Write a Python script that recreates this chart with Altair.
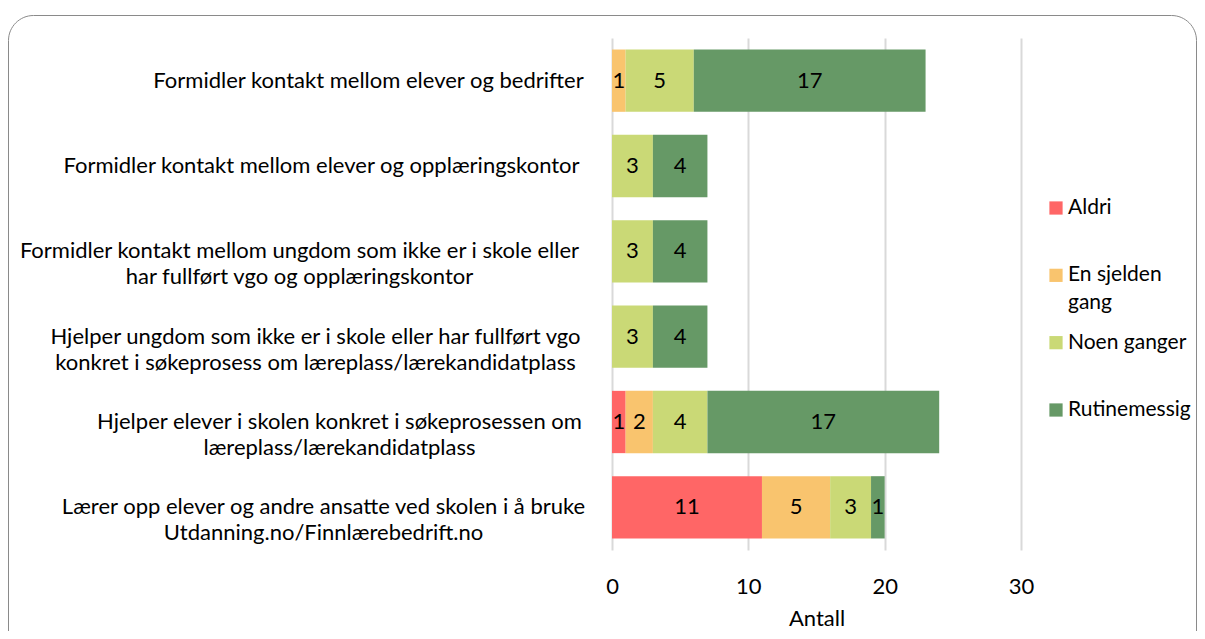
import json
import altair as alt
import pandas as pd

# ---- data ----
categories = [
    "Formidler kontakt mellom elever og bedrifter",
    "Formidler kontakt mellom elever og opplæringskontor",
    "Formidler kontakt mellom ungdom som ikke er i skole eller\nhar fullført vgo og opplæringskontor",
    "Hjelper ungdom som ikke er i skole eller har fullført vgo\nkonkret i søkeprosess om læreplass/lærekandidatplass",
    "Hjelper elever i skolen konkret i søkeprosessen om\nlæreplass/lærekandidatplass",
    "Lærer opp elever og andre ansatte ved skolen i å bruke\nUtdanning.no/Finnlærebedrift.no",
]
series = ["Aldri", "En sjelden gang", "Noen ganger", "Rutinemessig"]
legend_labels = ["Aldri", "En sjelden\ngang", "Noen ganger", "Rutinemessig"]
aldri = [0, 0, 0, 0, 1, 11]
sjelden = [1, 0, 0, 0, 2, 5]
noen = [5, 3, 3, 3, 4, 3]
rutine = [17, 4, 4, 4, 17, 1]
x_ticks = [0, 10, 20, 30]
x_title = "Antall"

# ---- styles ----
colors = ["#FF6666", "#F9C46E", "#CAD976", "#669966"]
FONT = "Lato"
FS = 22
# centre of each category label block (distance from the axis)
label_pad = [244, 291, 313, 297, 273, 289]

rows = []
for vals, s_i in zip([aldri, sjelden, noen, rutine], range(4)):
    for c, v in zip(categories, vals):
        rows.append({"cat": c, "series": series[s_i], "value": v, "order": s_i})
df = pd.DataFrame(rows)

color = alt.Color("series:N", scale=alt.Scale(domain=series, range=colors), legend=None)

pad_cond = {
    "condition": [
        {"test": "datum.value === " + json.dumps(c, ensure_ascii=False), "value": p}
        for c, p in zip(categories, label_pad)
    ],
    "value": 290,
}

y_enc = alt.Y(
    "cat:N",
    sort=categories,
    title=None,
    scale=alt.Scale(paddingInner=0.27, paddingOuter=0.135),
    axis=alt.Axis(
        domain=False, ticks=False, grid=False,
        labelExpr="split(datum.label, '\\n')",
        labelAlign="center", labelBaseline="middle",
        labelPadding=pad_cond,
        labelFont=FONT, labelFontSize=FS, labelLineHeight=26,
        labelColor="black", labelLimit=1000,
    ),
)

base = alt.Chart(df).transform_filter("datum.value > 0")

bars = base.mark_bar().encode(
    y=y_enc,
    x=alt.X(
        "value:Q", stack="zero",
        scale=alt.Scale(domain=[0, 30], nice=False),
        axis=alt.Axis(
            values=x_ticks, grid=True, gridColor="#D9D9D9", gridWidth=2,
            domain=False, ticks=False, labelFlush=False,
            labelFont=FONT, labelFontSize=FS, labelColor="black", labelPadding=26,
            title=x_title, titleFont=FONT, titleFontSize=FS, titleFontWeight="normal",
            titleColor="black", titleBaseline="alphabetic", titleY=75,
        ),
    ),
    color=color,
    order=alt.Order("order:Q"),
)

texts = base.transform_stack(
    stack="value", groupby=["cat"], as_=["x0", "x1"], sort=[alt.SortField("order")]
).transform_calculate(mid="(datum.x0 + datum.x1) / 2").mark_text(
    font=FONT, fontSize=FS, color="black", baseline="middle"
).encode(
    y=alt.Y("cat:N", sort=categories),
    x=alt.X("mid:Q"),
    text="value:Q",
)

main = alt.layer(bars, texts)

leg_df = pd.DataFrame({"series": series, "label": legend_labels})
leg_y = alt.Y(
    "series:N", sort=series, axis=None,
    scale=alt.Scale(type="point", padding=0, range=[170, 372]),
)
leg_sw = alt.Chart(leg_df).mark_square(size=175, opacity=1).encode(
    y=leg_y, x=alt.value(444), color=color
)
leg_tx = alt.Chart(leg_df).mark_text(
    align="left", baseline="alphabetic", dy=6, lineBreak="\n", lineHeight=28,
    font=FONT, fontSize=21, color="black",
).encode(y=leg_y, x=alt.value(456), text="label:N")
legend = alt.layer(leg_sw, leg_tx)

frame = alt.Chart(pd.DataFrame({"f": [0]})).mark_rect(
    fillOpacity=0, stroke="#8A8A8A", strokeWidth=1, cornerRadius=25
).encode(
    x=alt.value(-603.5), x2=alt.value(584.5), y=alt.value(-22.5), y2=alt.value(700)
)

chart = alt.layer(frame, main, legend).resolve_scale(y="independent").properties(
    width=409,
    height=512,
    autosize=alt.AutoSizeParams(type="none"),
    padding={"left": 604, "top": 30, "right": 176, "bottom": 81},
).configure(font=FONT).configure_view(stroke=None)

chart.save("out.html", embed_options={"renderer": "svg", "actions": False})
